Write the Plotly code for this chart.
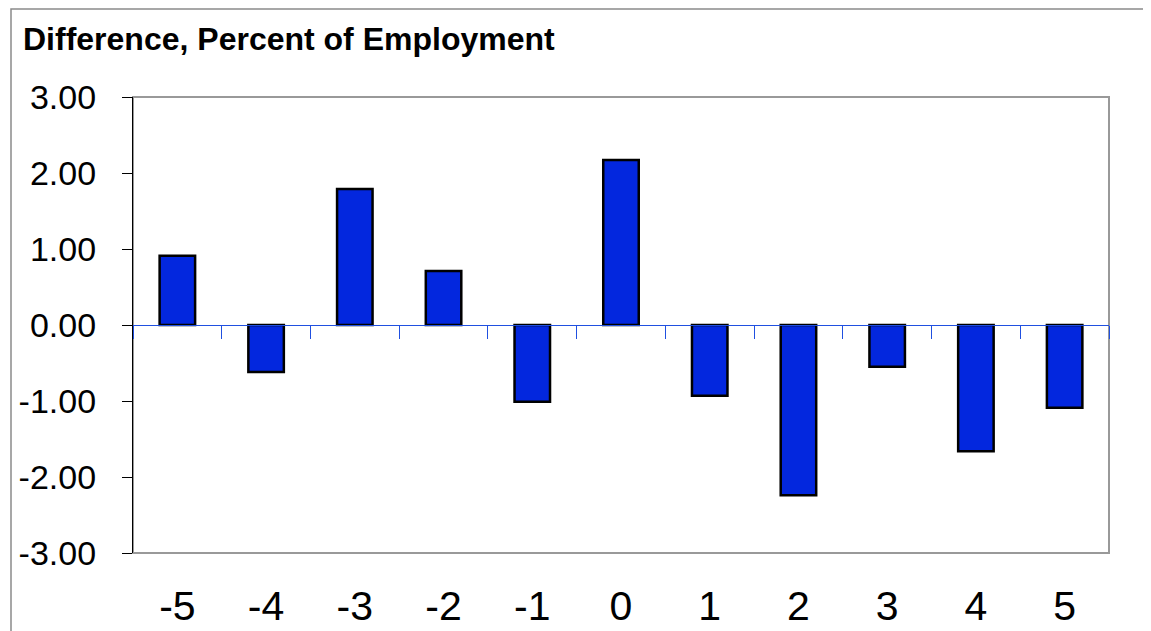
import plotly.graph_objects as go

categories = [-5, -4, -3, -2, -1, 0, 1, 2, 3, 4, 5]
values = [0.91, -0.62, 1.79, 0.71, -1.01, 2.17, -0.93, -2.24, -0.55, -1.66, -1.09]
y_ticks = [-3, -2, -1, 0, 1, 2, 3]
title_text = "Difference, Percent of Employment"

OFF = 8  # page body margin
W, H = 1151 - OFF, 631 - OFF
L, R, T, B = 133 - OFF, 1109 - OFF, 97 - OFF, 553 - OFF
pw, ph = R - L, B - T

def px(x):
    return (x - OFF - L) / pw

def py(y):
    return (B - (y - OFF)) / ph

FONT = "Liberation Sans, Arial, sans-serif"

fig = go.Figure()
fig.add_trace(go.Bar(
    x=categories, y=values, width=0.4,
    marker=dict(color="#0327DE", line=dict(color="black", width=2.5)),
    xaxis="x", yaxis="y", showlegend=False,
))
fig.add_trace(go.Scatter(
    x=categories, y=[0] * len(categories), mode="none",
    xaxis="x2", yaxis="y", showlegend=False, hoverinfo="skip",
))

boundaries = [c - 0.5 for c in categories] + [categories[-1] + 0.5]
ytext = [f"{v:.2f}" for v in y_ticks]

fig.update_layout(
    width=W, height=H,
    margin=dict(l=L, r=W - R, t=T, b=H - B, pad=0, autoexpand=False),
    paper_bgcolor="white", plot_bgcolor="white",
    font=dict(family=FONT, color="black"),
    xaxis=dict(
        range=[-5.5, 5.5], anchor="free", position=0.5, automargin=False,
        showline=True, linecolor="#2050E0", linewidth=1.2,
        ticks="outside", tickvals=boundaries, ticklen=13, tickwidth=1.2,
        tickcolor="#2050E0", showticklabels=False, showgrid=False,
        zeroline=False,
    ),
    xaxis2=dict(
        range=[-5.5, 5.5], overlaying="x", anchor="y", side="bottom",
        automargin=False,
        showline=False, showgrid=False, zeroline=False, ticks="",
        tickvals=categories, ticktext=[str(c) for c in categories],
        tickfont=dict(size=41, family=FONT), ticklabelstandoff=25,
    ),
    yaxis=dict(
        range=[-3, 3], tickvals=y_ticks, ticktext=ytext, automargin=False,
        showline=True, linecolor="black", linewidth=1.2,
        ticks="outside", ticklen=10, tickwidth=1.2, tickcolor="black",
        tickfont=dict(size=34, family=FONT), ticklabelstandoff=19,
        showgrid=False, zeroline=False,
    ),
    shapes=[
        dict(type="rect", xref="paper", yref="paper",
             x0=0, x1=1, y0=0, y1=1,
             line=dict(color="#999999", width=2), layer="below"),
        dict(type="rect", xref="paper", yref="paper",
             x0=px(11), x1=px(1200), y0=py(700), y1=py(9),
             line=dict(color="#8a8a8a", width=1.5), layer="below"),
    ],
    annotations=[
        dict(text="<b>" + title_text + "</b>", xref="paper", yref="paper",
             x=px(21), y=py(39), xanchor="left", yanchor="middle",
             showarrow=False, font=dict(size=32, family=FONT, color="black")),
    ],
)

fig.write_html("out.html")
